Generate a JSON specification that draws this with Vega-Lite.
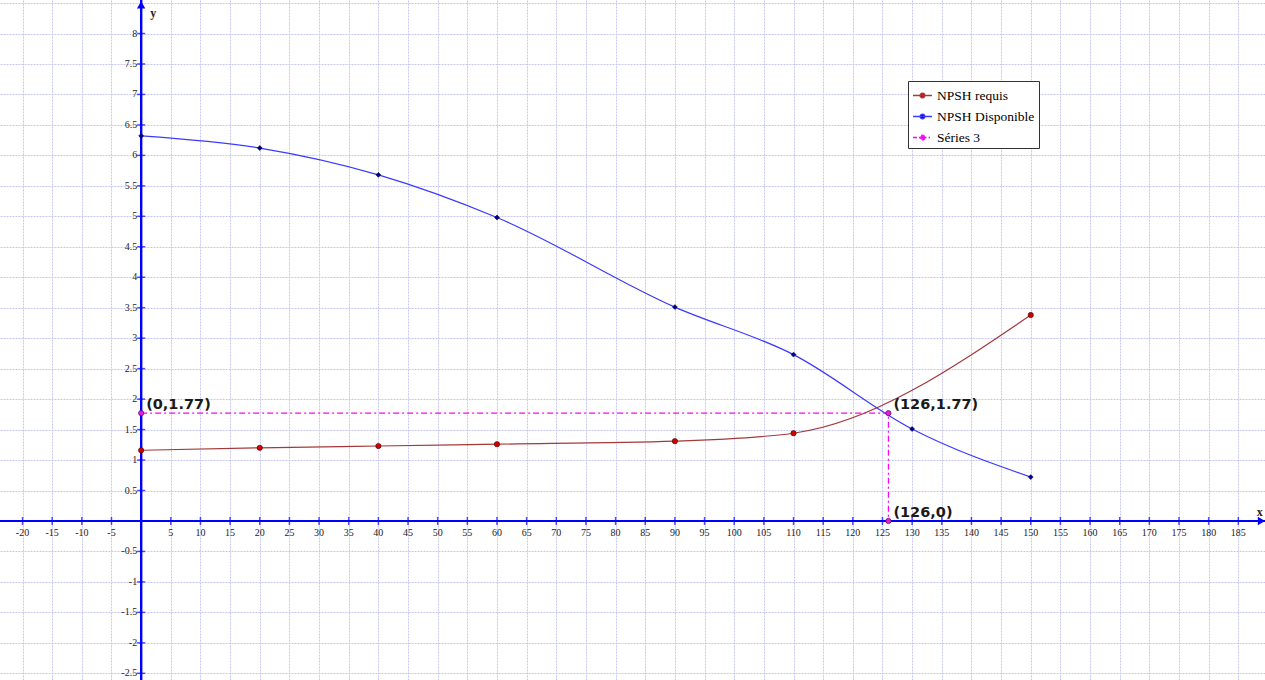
{
  "$schema": "https://vega.github.io/schema/vega-lite/v6.json",
  "width": 1265,
  "height": 680,
  "autosize": {"type": "none"},
  "padding": 0,
  "background": "white",
  "config": {"view": {"stroke": null}},
  "datasets": {
    "curves": [
      {"series": "NPSH requis", "x": 0, "y": 1.16, "o": 1},
      {"series": "NPSH requis", "x": 20, "y": 1.2, "o": 2},
      {"series": "NPSH requis", "x": 40, "y": 1.23, "o": 3},
      {"series": "NPSH requis", "x": 60, "y": 1.26, "o": 4},
      {"series": "NPSH requis", "x": 90, "y": 1.31, "o": 5},
      {"series": "NPSH requis", "x": 110, "y": 1.44, "o": 6},
      {"series": "NPSH requis", "x": 150, "y": 3.38, "o": 7},
      {"series": "NPSH Disponible", "x": 0, "y": 6.32, "o": 1},
      {"series": "NPSH Disponible", "x": 20, "y": 6.12, "o": 2},
      {"series": "NPSH Disponible", "x": 40, "y": 5.68, "o": 3},
      {"series": "NPSH Disponible", "x": 60, "y": 4.98, "o": 4},
      {"series": "NPSH Disponible", "x": 90, "y": 3.51, "o": 5},
      {"series": "NPSH Disponible", "x": 110, "y": 2.73, "o": 6},
      {"series": "NPSH Disponible", "x": 130, "y": 1.51, "o": 7},
      {"series": "NPSH Disponible", "x": 150, "y": 0.72, "o": 8},
      {"series": "Séries 3", "x": 0, "y": 1.77, "o": 1},
      {"series": "Séries 3", "x": 126, "y": 1.77, "o": 2},
      {"series": "Séries 3", "x": 126, "y": 0, "o": 3}
    ],
    "xticks": [
      {"x": -20, "y": 0, "lab": "-20"}, {"x": -15, "y": 0, "lab": "-15"}, {"x": -10, "y": 0, "lab": "-10"}, {"x": -5, "y": 0, "lab": "-5"},
      {"x": 5, "y": 0, "lab": "5"}, {"x": 10, "y": 0, "lab": "10"}, {"x": 15, "y": 0, "lab": "15"}, {"x": 20, "y": 0, "lab": "20"},
      {"x": 25, "y": 0, "lab": "25"}, {"x": 30, "y": 0, "lab": "30"}, {"x": 35, "y": 0, "lab": "35"}, {"x": 40, "y": 0, "lab": "40"},
      {"x": 45, "y": 0, "lab": "45"}, {"x": 50, "y": 0, "lab": "50"}, {"x": 55, "y": 0, "lab": "55"}, {"x": 60, "y": 0, "lab": "60"},
      {"x": 65, "y": 0, "lab": "65"}, {"x": 70, "y": 0, "lab": "70"}, {"x": 75, "y": 0, "lab": "75"}, {"x": 80, "y": 0, "lab": "80"},
      {"x": 85, "y": 0, "lab": "85"}, {"x": 90, "y": 0, "lab": "90"}, {"x": 95, "y": 0, "lab": "95"}, {"x": 100, "y": 0, "lab": "100"},
      {"x": 105, "y": 0, "lab": "105"}, {"x": 110, "y": 0, "lab": "110"}, {"x": 115, "y": 0, "lab": "115"}, {"x": 120, "y": 0, "lab": "120"},
      {"x": 125, "y": 0, "lab": "125"}, {"x": 130, "y": 0, "lab": "130"}, {"x": 135, "y": 0, "lab": "135"}, {"x": 140, "y": 0, "lab": "140"},
      {"x": 145, "y": 0, "lab": "145"}, {"x": 150, "y": 0, "lab": "150"}, {"x": 155, "y": 0, "lab": "155"}, {"x": 160, "y": 0, "lab": "160"},
      {"x": 165, "y": 0, "lab": "165"}, {"x": 170, "y": 0, "lab": "170"}, {"x": 175, "y": 0, "lab": "175"}, {"x": 180, "y": 0, "lab": "180"},
      {"x": 185, "y": 0, "lab": "185"}
    ],
    "yticks": [
      {"x": 0, "y": -2.5, "lab": "-2.5"}, {"x": 0, "y": -2, "lab": "-2"}, {"x": 0, "y": -1.5, "lab": "-1.5"}, {"x": 0, "y": -1, "lab": "-1"},
      {"x": 0, "y": -0.5, "lab": "-0.5"}, {"x": 0, "y": 0.5, "lab": "0.5"}, {"x": 0, "y": 1, "lab": "1"}, {"x": 0, "y": 1.5, "lab": "1.5"},
      {"x": 0, "y": 2, "lab": "2"}, {"x": 0, "y": 2.5, "lab": "2.5"}, {"x": 0, "y": 3, "lab": "3"}, {"x": 0, "y": 3.5, "lab": "3.5"},
      {"x": 0, "y": 4, "lab": "4"}, {"x": 0, "y": 4.5, "lab": "4.5"}, {"x": 0, "y": 5, "lab": "5"}, {"x": 0, "y": 5.5, "lab": "5.5"},
      {"x": 0, "y": 6, "lab": "6"}, {"x": 0, "y": 6.5, "lab": "6.5"}, {"x": 0, "y": 7, "lab": "7"}, {"x": 0, "y": 7.5, "lab": "7.5"},
      {"x": 0, "y": 8, "lab": "8"}
    ],
    "notes": [
      {"x": 0, "y": 1.77, "lab": "(0,1.77)"},
      {"x": 126, "y": 1.77, "lab": "(126,1.77)"},
      {"x": 126, "y": 0, "lab": "(126,0)"}
    ]
  },
  "encoding": {
    "x": {
      "field": "x", "type": "quantitative",
      "scale": {"domain": [-23.8, 189.5], "nice": false, "zero": false},
      "axis": {
        "orient": "bottom", "title": null, "labels": false, "ticks": false, "domain": false,
        "grid": true, "gridColor": "#c6c6f2", "gridDash": [2, 1], "gridWidth": 1,
        "values": [-20, -15, -10, -5, 0, 5, 10, 15, 20, 25, 30, 35, 40, 45, 50, 55, 60, 65, 70, 75, 80, 85, 90, 95, 100, 105, 110, 115, 120, 125, 130, 135, 140, 145, 150, 155, 160, 165, 170, 175, 180, 185]
      }
    },
    "y": {
      "field": "y", "type": "quantitative",
      "scale": {"domain": [-2.61, 8.55], "nice": false, "zero": false},
      "axis": {
        "orient": "left", "title": null, "labels": false, "ticks": false, "domain": false,
        "grid": true, "gridColor": "#c6c6f2", "gridDash": [2, 1], "gridWidth": 1,
        "values": [-2.5, -2, -1.5, -1, -0.5, 0, 0.5, 1, 1.5, 2, 2.5, 3, 3.5, 4, 4.5, 5, 5.5, 6, 6.5, 7, 7.5, 8, 8.5]
      }
    }
  },
  "layer": [
    {
      "data": {"name": "notes"},
      "mark": {"type": "rule", "color": "#0000ff", "strokeWidth": 2},
      "encoding": {"x": null, "y": {"datum": 0, "type": "quantitative"}}
    },
    {
      "data": {"name": "notes"},
      "mark": {"type": "rule", "color": "#0000ff", "strokeWidth": 2},
      "encoding": {"y": null, "x": {"datum": 0, "type": "quantitative"}}
    },
    {
      "data": {"name": "xticks"},
      "mark": {"type": "tick", "orient": "vertical", "color": "#0000ff", "size": 8, "thickness": 1.5}
    },
    {
      "data": {"name": "yticks"},
      "mark": {"type": "tick", "orient": "horizontal", "color": "#0000ff", "size": 8, "thickness": 1.5}
    },
    {
      "data": {"name": "xticks"},
      "mark": {"type": "text", "font": "Liberation Serif", "fontSize": 10, "color": "#222222", "baseline": "top", "align": "center", "dy": 7},
      "encoding": {"text": {"field": "lab"}}
    },
    {
      "data": {"name": "yticks"},
      "mark": {"type": "text", "font": "Liberation Serif", "fontSize": 10, "color": "#222222", "baseline": "middle", "align": "right", "dx": -4},
      "encoding": {"text": {"field": "lab"}}
    },
    {
      "data": {"values": [{"x": 188.9, "y": 0}]},
      "mark": {"type": "point", "filled": true, "color": "#0000ff", "size": 70, "opacity": 1, "shape": "triangle-right"}
    },
    {
      "data": {"values": [{"x": 0, "y": 8.47}]},
      "mark": {"type": "point", "filled": true, "color": "#0000ff", "size": 70, "opacity": 1, "shape": "triangle-up"}
    },
    {
      "data": {"values": [{"x": 188.6, "y": 0, "lab": "x"}]},
      "mark": {"type": "text", "font": "Liberation Serif", "fontSize": 12, "fontWeight": "bold", "color": "#222222", "dy": -9, "align": "center"},
      "encoding": {"text": {"field": "lab"}}
    },
    {
      "data": {"values": [{"x": 0, "y": 8.33, "lab": "y"}]},
      "mark": {"type": "text", "font": "Liberation Serif", "fontSize": 12, "fontWeight": "bold", "color": "#222222", "dx": 9, "align": "left"},
      "encoding": {"text": {"field": "lab"}}
    },
    {
      "data": {"name": "curves"},
      "transform": [{"filter": "datum.series !== 'Séries 3'"}],
      "mark": {"type": "line", "interpolate": "monotone", "strokeWidth": 1.2},
      "encoding": {
        "order": {"field": "o", "type": "quantitative"},
        "color": {
          "field": "series", "type": "nominal",
          "scale": {"domain": ["NPSH requis", "NPSH Disponible", "Séries 3"], "range": ["#a33a3a", "#3a3aff", "#ff00ff"]},
          "legend": {
            "orient": "none", "legendX": 908, "legendY": 81, "title": null,
            "fillColor": "white", "strokeColor": "#333333", "padding": 4,
            "labelFont": "Liberation Serif", "labelFontSize": 13.5, "labelColor": "#000000", "labelOffset": 4,
            "symbolType": "M-1,0L1,0M0.25,0A0.25,0.25 0 1 1 -0.25,0A0.25,0.25 0 1 1 0.25,0",
            "symbolSize": 360, "symbolStrokeWidth": 1.3, "rowPadding": 4,
            "values": ["NPSH requis", "NPSH Disponible", "Séries 3"],
            "encode": {"symbols": {"update": {
              "strokeDash": {"signal": "datum.value === 'Séries 3' ? [4, 2, 1.5, 2] : [1, 0]"},
              "fill": {"signal": "datum.value === 'NPSH requis' ? '#d40000' : datum.value === 'NPSH Disponible' ? '#00008b' : '#e020e0'"}
            }}}
          }
        }
      }
    },
    {
      "data": {"name": "curves"},
      "transform": [{"filter": "datum.series === 'Séries 3'"}],
      "mark": {"type": "line", "strokeWidth": 1.2, "strokeDash": [6, 3, 2, 3], "color": "#ff00ff"},
      "encoding": {
        "order": {"field": "o", "type": "quantitative"}
      }
    },
    {
      "data": {"name": "curves"},
      "transform": [{"filter": "datum.series === 'NPSH requis'"}],
      "mark": {"type": "point", "filled": true, "size": 28, "opacity": 1, "fill": "#d40000", "stroke": "#400000", "strokeWidth": 0.6, "shape": "circle"}
    },
    {
      "data": {"name": "curves"},
      "transform": [{"filter": "datum.series === 'NPSH Disponible'"}],
      "mark": {"type": "point", "filled": true, "size": 24, "opacity": 1, "fill": "#00008b", "stroke": "#000040", "strokeWidth": 0.6, "shape": "diamond"}
    },
    {
      "data": {"name": "curves"},
      "transform": [{"filter": "datum.series === 'Séries 3'"}],
      "mark": {"type": "point", "filled": true, "size": 28, "opacity": 1, "fill": "#e020e0", "stroke": "#400040", "strokeWidth": 0.6, "shape": "circle"}
    },
    {
      "data": {"name": "notes"},
      "mark": {"type": "text", "font": "DejaVu Sans", "fontSize": 14.5, "fontWeight": "bold", "color": "#1a1a1a", "align": "left", "baseline": "bottom", "dx": 5, "dy": -1},
      "encoding": {"text": {"field": "lab"}}
    }
  ]
}
